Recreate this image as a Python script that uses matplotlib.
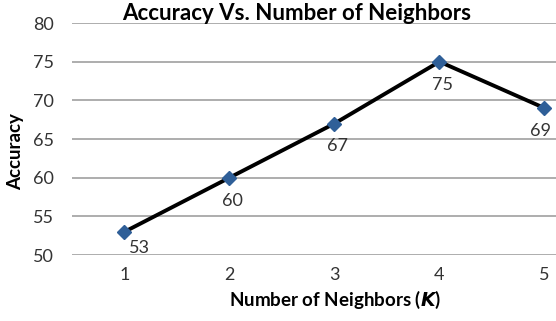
import numpy as np
import matplotlib.pyplot as plt

plt.rcParams['font.family'] = ['Lato', 'DejaVu Sans']

k_values = [1, 2, 3, 4, 5]
accuracy = [53, 60, 67, 75, 69]
y_ticks = [50, 55, 60, 65, 70, 75, 80]

fig = plt.figure(figsize=(5.56, 3.21), dpi=100)
ax = fig.add_axes([72/556, 1-255/321, 1-72/556, (255-23)/321])

ax.plot(k_values, accuracy, color='black', lw=2.8, zorder=3,
        marker='D', ms=7, mfc='#2f5f98', mec='#2f5f98')

# label offsets in points
offsets = {1: (11, -12), 5: (-3, -16.5)}
for k, a in zip(k_values, accuracy):
    dx, dy = offsets.get(k, (2, -16.5))
    ax.annotate(str(a), (k, a), xytext=(dx, dy), textcoords='offset points',
                ha='center', va='center', fontsize=13, color='#333333')

ax.set_xlim(0.5, 5.11)
ax.set_ylim(50, 80)
ax.set_yticks(y_ticks)
ax.set_xticks(k_values)
ax.grid(axis='y', color='#a0a0a0', lw=1.2)
ax.set_axisbelow(True)
for s in ax.spines.values():
    s.set_visible(False)
ax.tick_params(length=0, labelsize=13, labelcolor='#333333')
ax.tick_params(axis='y', pad=13)
ax.tick_params(axis='x', pad=9)

fig.text(297/556, 1-13/321, 'Accuracy Vs. Number of Neighbors', ha='center', va='center',
         fontsize=16, fontweight='bold')
fig.text(16/556, 1-152/321, 'Accuracy', rotation=90, ha='center', va='center',
         fontsize=13.5, fontweight='bold')
fig.text(335/556, 1-300/321, r'Number of Neighbors ($\boldsymbol{K}$)', ha='center', va='center',
         fontsize=13.5, fontweight='bold')

fig.savefig('out.png', dpi=100)
